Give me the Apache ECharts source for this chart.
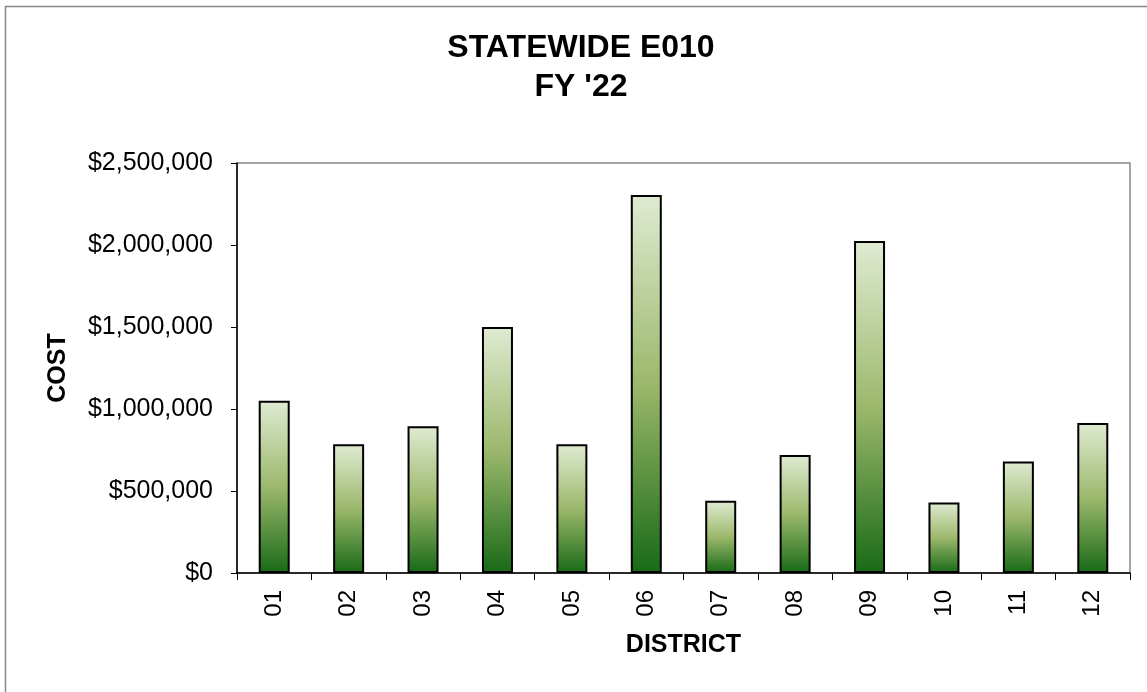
<!DOCTYPE html>
<html>
<head>
<meta charset="utf-8">
<script src="https://cdn.jsdelivr.net/npm/echarts@6/dist/echarts.min.js"></script>
<style>html,body{margin:0;padding:0;background:#fff}#c{width:1147px;height:692px}</style>
</head>
<body>
<div id="c"></div>
<script>
const districts = ['01','02','03','04','05','06','07','08','09','10','11','12'];
const costs = [1050000, 785000, 895000, 1500000, 785000, 2305000, 440000, 720000, 2025000, 430000, 680000, 915000];
const yTicks = {min: 0, max: 2500000, interval: 500000};

const font = '"Liberation Sans", Arial, sans-serif';
const chart = echarts.init(document.getElementById('c'), null, {renderer: 'canvas'});
chart.setOption({
  animation: false,
  backgroundColor: '#fff',
  title: {
    text: "STATEWIDE E010\nFY '22",
    left: 576,
    textAlign: 'center',
    top: 24,
    textStyle: {fontFamily: font, fontSize: 32, fontWeight: 'bold', color: '#000', lineHeight: 39}
  },
  graphic: [{
    type: 'rect', silent: true, z: -1,
    shape: {x: 5.5, y: 6.5, width: 1300, height: 900},
    style: {fill: 'none', stroke: '#888', lineWidth: 1.5}
  }],
  grid: {left: 237, right: 17, top: 163, bottom: 119, show: true, borderColor: '#888', borderWidth: 1.5, backgroundColor: 'transparent'},
  xAxis: {
    type: 'category',
    data: districts,
    name: 'DISTRICT',
    nameLocation: 'middle',
    nameGap: 60,
    nameTextStyle: {fontFamily: font, fontSize: 25, fontWeight: 'bold', color: '#000'},
    axisLine: {lineStyle: {color: '#000', width: 1.5}},
    axisTick: {show: true, length: 7, lineStyle: {color: '#000'}},
    axisLabel: {rotate: 90, fontFamily: font, fontSize: 24, color: '#000', margin: 17}
  },
  yAxis: {
    type: 'value',
    min: yTicks.min, max: yTicks.max, interval: yTicks.interval,
    name: 'COST',
    nameLocation: 'middle',
    nameGap: 166,
    nameRotate: 90,
    nameTextStyle: {fontFamily: font, fontSize: 25, fontWeight: 'bold', color: '#000'},
    splitLine: {show: false},
    axisLine: {show: true, lineStyle: {color: '#000', width: 1.5}},
    axisTick: {show: true, length: 6, lineStyle: {color: '#000'}},
    axisLabel: {
      fontFamily: font, fontSize: 25, color: '#000', margin: 24,
      formatter: v => '$' + v.toLocaleString('en-US')
    }
  },
  series: [{
    type: 'bar',
    data: costs,
    barWidth: 31,
    itemStyle: {
      borderColor: '#000',
      borderWidth: 2,
      color: {
        type: 'linear', x: 0, y: 0, x2: 0, y2: 1,
        colorStops: [
          {offset: 0, color: '#dfebd2'},
          {offset: 0.5, color: '#9cb86c'},
          {offset: 1, color: '#186a16'}
        ]
      }
    }
  }]
});
</script>
</body>
</html>
